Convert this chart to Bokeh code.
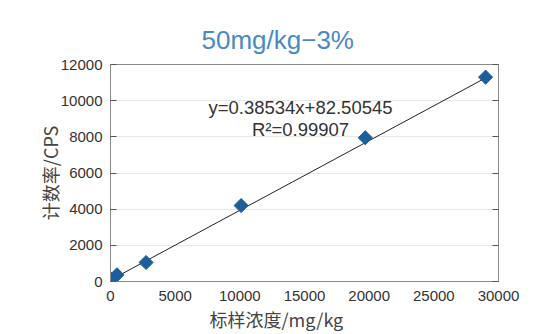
import math
from bokeh.plotting import figure
from bokeh.models import Range1d, FixedTicker, LinearAxis, Label, Title
from bokeh.embed import file_html
from bokeh.resources import INLINE

# data
conc = [0, 500, 2750, 10100, 19700, 29000]
cps = [150, 370, 1050, 4200, 7950, 11300]
slope = 0.38534
intercept = 82.50545
x_ticks = [0, 5000, 10000, 15000, 20000, 25000, 30000]
y_ticks = [0, 2000, 4000, 6000, 8000, 10000, 12000]
title_text = "50mg/kg\u22123%"
eq_text = "y=0.38534x+82.50545"
r2_text = "R\u00b2=0.99907"
x_label = "标样浓度/mg/kg"
y_label = "计数率/CPS"

p = figure(width=521, height=331, output_backend="svg", toolbar_location=None,
           x_range=Range1d(0, 30000), y_range=Range1d(0, 12000),
           min_border_left=110, min_border_right=23, min_border_top=64, min_border_bottom=48)
p.title = None
p.background_fill_color = "white"
p.border_fill_color = "white"
p.outline_line_color = "#8a8a8a"
p.outline_line_width = 1

t = Title(text=title_text, align="left", offset=91, text_font="Liberation Sans",
          text_font_size="26px", text_font_style="normal", text_color="#4a89c2", standoff=20)
p.add_layout(t, "above")

tick_font = "Liberation Sans"
p.xaxis.ticker = FixedTicker(ticks=x_ticks)
p.yaxis.ticker = FixedTicker(ticks=y_ticks)
for ax in (p.xaxis[0], p.yaxis[0]):
    ax.major_label_text_font = tick_font
    ax.major_label_text_font_size = "15px"
    ax.major_label_text_color = "#333333"
    ax.axis_line_color = "#8a8a8a"
    ax.minor_tick_line_color = None
    ax.axis_label_text_font = "Noto Sans CJK SC"
    ax.axis_label_text_font_size = "18px"
    ax.axis_label_text_font_style = "normal"
    ax.axis_label_text_color = "#444444"
p.xaxis.major_label_standoff = 9
p.yaxis.major_label_standoff = 8
p.xaxis.major_tick_line_color = None
p.xaxis.major_tick_in = 0
p.xaxis.major_tick_out = 0
p.yaxis.major_tick_in = 6
p.yaxis.major_tick_out = 0
p.yaxis.major_tick_line_color = "#555555"
p.yaxis.axis_label = y_label
p.yaxis.axis_label_standoff = -5

xt = Title(text=x_label, align="left", offset=99, text_font="Noto Sans CJK SC",
           text_font_size="18px", text_font_style="normal", text_color="#444444", standoff=0)
p.add_layout(xt, "below")

ra = LinearAxis(ticker=FixedTicker(ticks=y_ticks),
                major_label_overrides={v: "" for v in y_ticks},
                major_label_standoff=0, major_tick_in=6, major_tick_out=0,
                major_tick_line_color="#555555", axis_line_color="#8a8a8a",
                minor_tick_line_color=None)
p.add_layout(ra, "right")

p.xgrid.grid_line_color = None
p.ygrid.grid_line_color = "#e8e8e8"
p.ygrid.grid_line_width = 1

xs = [min(conc), max(conc)]
ys = [slope * v + intercept for v in xs]
p.line(xs, ys, line_color="#222222", line_width=1)
p.scatter(conc, cps, marker="square", angle=math.pi / 4, size=10,
          fill_color="#1b5e9c", line_color="#1b5e9c")

p.add_layout(Label(x=14690, y=9630, text=eq_text, text_align="center", text_baseline="middle",
                   text_font="Liberation Sans", text_font_size="18.5px", text_color="#333333"))
p.add_layout(Label(x=14690, y=8410, text=r2_text, text_align="center", text_baseline="middle",
                   text_font="Liberation Sans", text_font_size="18.5px", text_color="#333333"))

open("out.html", "w").write(file_html(p, INLINE))
